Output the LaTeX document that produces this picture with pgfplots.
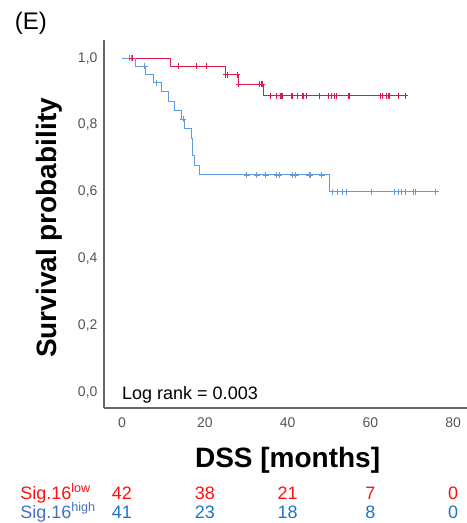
\documentclass[border=0pt]{standalone}
\usepackage{fontspec}
\setmainfont{Liberation Sans}
\usepackage{pgfplots}
\pgfplotsset{compat=1.18}
\definecolor{kmred}{HTML}{E0184A}
\definecolor{kmblue}{HTML}{5B9BE8}
\definecolor{lowred}{HTML}{FF1010}
\definecolor{hilab}{HTML}{4472C4}
\definecolor{hinum}{HTML}{1F74C6}
\definecolor{ticklab}{HTML}{555555}
\tikzset{
  rowlow/.style={anchor=base, inner sep=0pt, text=lowred, font=\fontsize{18}{20}\selectfont},
  rowhigh/.style={anchor=base, inner sep=0pt, text=hinum, font=\fontsize{18}{20}\selectfont},
}
\begin{document}
\begin{tikzpicture}
\begin{axis}[
  x=4.14pt, y=334pt,
  xmin=-4.35, xmax=83.33, ymin=-0.048, ymax=1.054,
  axis x line*=bottom, axis y line*=left,
  axis line style={draw=black!60, line width=1.3pt},
  xtick={0,20,40,60,80},
  ytick={0,0.2,0.4,0.6,0.8,1.0},
  major tick length=0pt,
  tick label style={font=\fontsize{14}{16}\selectfont, text=ticklab},
  yticklabel style={xshift=-3pt},
  xticklabel style={yshift=-6pt},
  /pgf/number format/assume math mode=true,
  yticklabel style={/pgf/number format/.cd, use comma, fixed, fixed zerofill, precision=1},
  clip=false,
  every axis plot/.append style={line width=1pt},
]
% Sig.16 low (red)
\addplot[kmred, const plot, no marks] coordinates {
(0,1.0) (11.6,0.976) (25.0,0.950) (28.1,0.921) (34.1,0.887) (68.4,0.887)};
% Sig.16 high (blue)
\addplot[kmblue, const plot, no marks] coordinates {
(0,1.0) (3.3,0.976) (5.7,0.952) (7.6,0.926) (9.6,0.899) (11.2,0.871) (12.6,0.843)
(14.4,0.817) (15.2,0.790) (16.8,0.759) (17.1,0.707) (17.6,0.677) (18.6,0.650)
(50.1,0.600) (75.8,0.600)};
% censor marks blue
\addplot[kmblue, only marks, mark=+, mark size=3pt, mark options={line width=0.8pt}] coordinates {
(1.9,1.0) (2.3,1.0) (5.5,0.976) (8.2,0.926) (14.8,0.817)
(30.1,0.650) (32.5,0.650) (34.7,0.650) (37.4,0.650) (38.0,0.650) (41.2,0.650) (42.0,0.650)
(45.2,0.650) (45.4,0.650) (48.2,0.650)
(50.9,0.600) (52.0,0.600) (53.3,0.600) (54.1,0.600) (60.3,0.600) (65.8,0.600) (66.7,0.600)
(67.6,0.600) (68.4,0.600) (70.4,0.600) (70.8,0.600) (75.8,0.600)};
% censor marks red
\addplot[kmred, only marks, mark=+, mark size=3pt, mark options={line width=0.8pt}] coordinates {
(2.5,1.0) (13.6,0.976) (17.9,0.976) (20.4,0.976)
(25.0,0.950) (25.4,0.950) (27.8,0.950)
(28.2,0.921) (33.2,0.921) (33.6,0.921) (33.9,0.921)
(35.9,0.887) (37.4,0.887) (38.2,0.887) (38.6,0.887) (38.8,0.887) (41.0,0.887) (41.2,0.887)
(42.4,0.887) (43.6,0.887) (43.9,0.887) (44.6,0.887) (47.6,0.887) (49.8,0.887) (50.6,0.887)
(51.4,0.887) (51.9,0.887) (54.7,0.887) (54.9,0.887) (62.3,0.887) (63.0,0.887) (63.8,0.887)
(64.3,0.887) (64.7,0.887) (66.8,0.887) (68.4,0.887)};
% texts
\node[anchor=west, inner sep=0pt, font=\fontsize{18}{20}\selectfont] at (axis cs:0,-0.008) {Log rank = 0.003};
\node[font=\fontsize{24}{26}\selectfont, inner sep=0pt] at (axis cs:-22,1.105) {(E)};
\node[rotate=90, font=\bfseries\fontsize{28}{30}\selectfont, inner sep=0pt] at (axis cs:-17.5,0.491) {Survival probability};
\node[font=\bfseries\fontsize{28}{30}\selectfont, inner sep=0pt] at (axis cs:40,-0.204) {DSS [months]};
% at-risk table
\node[anchor=base west, inner sep=0pt, text=lowred, font=\fontsize{18}{20}\selectfont] at (axis cs:-24.6,-0.321) {Sig.16\textsuperscript{low}};
\node[anchor=base west, inner sep=0pt, text=hilab, font=\fontsize{18}{20}\selectfont] at (axis cs:-24.6,-0.378) {Sig.16\textsuperscript{high}};
\node[rowlow] at (axis cs:0,-0.321) {42};
\node[rowlow] at (axis cs:20,-0.321) {38};
\node[rowlow] at (axis cs:40,-0.321) {21};
\node[rowlow] at (axis cs:60,-0.321) {7};
\node[rowlow] at (axis cs:80,-0.321) {0};
\node[rowhigh] at (axis cs:0,-0.378) {41};
\node[rowhigh] at (axis cs:20,-0.378) {23};
\node[rowhigh] at (axis cs:40,-0.378) {18};
\node[rowhigh] at (axis cs:60,-0.378) {8};
\node[rowhigh] at (axis cs:80,-0.378) {0};
\coordinate (bbSW) at (axis cs:-29.47,-0.3922);
\coordinate (bbNE) at (axis cs:83.33,1.1737);
\end{axis}
\pgfresetboundingbox
\useasboundingbox (bbSW) rectangle (bbNE);
\end{tikzpicture}
\end{document}
